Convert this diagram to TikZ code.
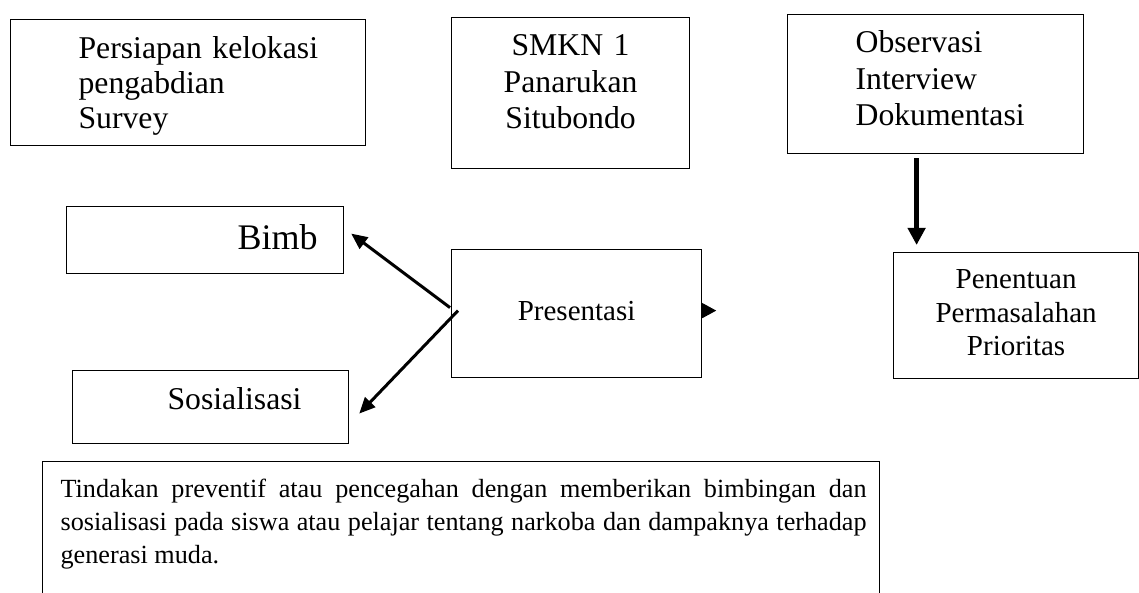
\documentclass[tikz,border=0pt]{standalone}
\usepackage{fontspec}
\setmainfont{Liberation Serif}
\usetikzlibrary{arrows.meta}

\begin{document}
\begin{tikzpicture}[x=1pt,y=-1pt,
  kotak/.style={draw,line width=1.2pt,rectangle,anchor=north west,inner sep=0pt},
  kiri/.style={align=left,execute at begin node={\leftskip=#1}},
  huruf/.style args={#1/#2}{font=\fontsize{#1}{#2}\selectfont},
  panah/.style={line width=3pt,-{Triangle[length=16pt,width=14pt]}},
  panahtebal/.style={line width=5pt,-{Triangle[length=17pt,width=17pt]}}]
\useasboundingbox (0,0) rectangle (1139,593);
\clip (0,0) rectangle (1139,593);

\node[kotak,kiri=68pt,huruf=31.7/35,text width=355pt,text height=39pt,text depth=87pt] (persiapan) at (10,19) {Persiapan kelokasi\\pengabdian\\Survey};
\node[kotak,align=center,huruf=31.7/36.5,text width=238pt,text height=38pt,text depth=113pt] (smkn) at (451,17) {SMKN 1\\Panarukan\\Situbondo};
\node[kotak,kiri=68pt,huruf=31.7/36.5,text width=296pt,text height=38pt,text depth=101pt] (observasi) at (787,14) {Observasi\\Interview\\Dokumentasi};
\node[kotak,align=center,huruf=29/33.5,text width=245pt,text height=36pt,text depth=90pt] (penentuan) at (893,252) {Penentuan\\Permasalahan\\Prioritas};
\node[kotak,kiri=171pt,huruf=36/40,text width=277pt,text height=43pt,text depth=24pt] (bimb) at (66,206) {Bimb};
\node[kotak,align=center,huruf=29/33,text width=250pt,text height=71pt,text depth=57pt] (presentasi) at (451,249) {Presentasi};
\node[kotak,kiri=95pt,huruf=31.7/35,text width=276pt,text height=39pt,text depth=34pt] (sosialisasi) at (72,370) {Sosialisasi};
\node[kotak,align=justify,huruf=26.2/33,text width=837pt,text height=36pt,text depth=114pt,
  execute at begin node={\leftskip=18pt\rightskip=13pt\hyphenpenalty=10000}] (tindakan) at (42,461)
  {Tindakan preventif atau pencegahan dengan memberikan bimbingan dan sosialisasi pada siswa atau pelajar tentang narkoba dan dampaknya terhadap generasi muda.};

\draw[panahtebal] ([xshift=-19pt,yshift=-4pt]observasi.south) -- ([xshift=-19pt,yshift=7pt]observasi.south |- penentuan.north);
\draw[panah] ([xshift=-1pt,yshift=6pt]presentasi.west) -- ([xshift=7pt,yshift=6.5pt]bimb.east);
\draw[panah] ([xshift=7pt,yshift=3pt]presentasi.west) -- ([xshift=10pt,yshift=-6.5pt]sosialisasi.east);
\coordinate (ujung) at ([xshift=14pt,yshift=3pt]presentasi.east);
\draw[line width=1pt,-{Triangle[length=14pt,width=15pt]}] ([yshift=3pt]presentasi.east) -- (ujung);
\end{tikzpicture}
\end{document}
